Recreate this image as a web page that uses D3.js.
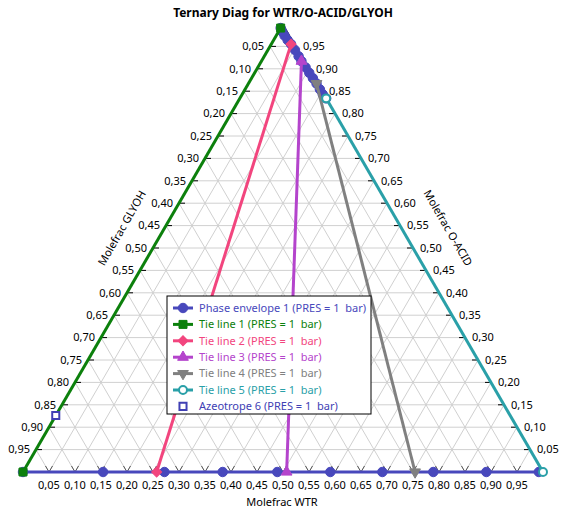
<!DOCTYPE html>
<html>
<head>
<meta charset="utf-8">
<script src="https://cdn.jsdelivr.net/npm/d3@7"></script>
<style>
  body { margin: 0; background: #fff; }
  text { font-family: "Noto Sans", sans-serif; }
</style>
</head>
<body>
<svg id="chart" width="568" height="510"></svg>
<script>
// composition ticks, shared by the three axes
const tickValues = [0.05, 0.10, 0.15, 0.20, 0.25, 0.30, 0.35, 0.40, 0.45, 0.50,
                    0.55, 0.60, 0.65, 0.70, 0.75, 0.80, 0.85, 0.90, 0.95];

// phase envelope: WTR and O-ACID mole fractions (GLYOH is the rest), null = break
const envWtr  = [0, 0.154, 0.272, 0.384, 0.489, 0.591, 0.691, 0.789, 0.891, 0.992, null,
                 0.166, 0.155, 0.144, 0.131, 0.118, 0.105, 0.092, 0.077, 0.066, 0.052, 0.038, 0.027, 0.016, 0.007, 0];
const envAcid = [0, 0, 0, 0, 0, 0, 0, 0, 0, 0, null,
                 0.834, 0.843, 0.854, 0.867, 0.879, 0.891, 0.903, 0.917, 0.928, 0.942, 0.955, 0.964, 0.974, 0.983, 0.991];

// tie lines: [bottom end, top end]
const tieWtr  = [[0, 0], [0.257, 0.038], [0.507, 0.077], [0.754, 0.131], [1.0, 0.166]];
const tieAcid = [[0, 0.991], [0, 0.955], [0, 0.917], [0, 0.867], [0, 0.834]];

const azeoWtr = [0];
const azeoAcid = [0.126];

const seriesNames = ["Phase envelope 1", "Tie line 1", "Tie line 2", "Tie line 3",
                     "Tie line 4", "Tie line 5", "Azeotrope 6"];
const seriesColors = ["#4848bc", "#0c800c", "#f2457e", "#b444cc", "#808080", "#2aa0a8", "#4040b4"];

const svg = d3.select("#chart");

const xScale = d3.scaleLinear().domain([0, 1]).range([23, 543]);
const yScale = d3.scaleLinear().domain([0, 1]).range([472, 24]);
// (wtr, acid) -> pixel
const px = (w, a) => xScale(w + a / 2);
const py = a => yScale(a);

const locale = d3.formatLocale({decimal: ",", thousands: ".", grouping: [3], currency: ["", ""]});
const fmt = locale.format(".2f");

// grid
const grid = svg.append("g").attr("stroke", "#d0d0d0").attr("stroke-width", 1);
tickValues.forEach(v => {
  // const O-ACID
  grid.append("line").attr("x1", px(0, v)).attr("y1", py(v)).attr("x2", px(1 - v, v)).attr("y2", py(v));
  // const WTR
  grid.append("line").attr("x1", px(v, 0)).attr("y1", py(0)).attr("x2", px(v, 1 - v)).attr("y2", py(1 - v));
  // const GLYOH
  grid.append("line").attr("x1", px(1 - v, 0)).attr("y1", py(0)).attr("x2", px(0, 1 - v)).attr("y2", py(1 - v));
});

// outline
svg.append("path")
  .attr("d", `M${px(0,0)},${py(0)}L${px(1,0)},${py(0)}L${px(0,1)},${py(1)}Z`)
  .attr("fill", "none").attr("stroke", "#000").attr("stroke-width", 1);

// ticks and tick labels
const axes = svg.append("g").attr("font-size", 11).attr("fill", "#000");
tickValues.forEach(v => {
  // left: GLYOH
  const lx = px(0, 1 - v), ly = py(1 - v);
  axes.append("line").attr("x1", lx).attr("y1", ly).attr("x2", lx + 6).attr("y2", ly).attr("stroke", "#000");
  axes.append("text").attr("x", lx - 6).attr("y", ly).attr("dy", "0.35em")
    .attr("text-anchor", "end").text(fmt(v));
  // right: O-ACID
  const rx = px(1 - v, v), ry = py(v);
  axes.append("line").attr("x1", rx - 6).attr("y1", ry).attr("x2", rx).attr("y2", ry).attr("stroke", "#000");
  axes.append("text").attr("x", rx + 7).attr("y", ry).attr("dy", "0.35em").text(fmt(v));
  // bottom: WTR
  const bx = px(v, 0), by = py(0);
  axes.append("path").attr("d", `M${bx - 3.5},${by - 6}L${bx},${by}L${bx + 3.5},${by - 6}`)
    .attr("fill", "none").attr("stroke", "#555");
  axes.append("text").attr("x", bx).attr("y", 485).attr("dy", "0.35em")
    .attr("text-anchor", "middle").text(fmt(v));
});

// axis titles
svg.append("text").attr("transform", "translate(122,228) rotate(-60)")
  .attr("text-anchor", "middle").attr("dy", "0.35em").attr("font-size", 11).text("Molefrac GLYOH");
svg.append("text").attr("transform", "translate(448,228) rotate(60)")
  .attr("text-anchor", "middle").attr("dy", "0.35em").attr("font-size", 11).text("Molefrac O-ACID");
svg.append("text").attr("x", 282).attr("y", 502).attr("dy", "0.35em")
  .attr("text-anchor", "middle").attr("font-size", 11).text("Molefrac WTR");
svg.append("text").attr("x", 283).attr("y", 13).attr("dy", "0.35em")
  .attr("text-anchor", "middle").attr("font-size", 12).attr("font-weight", "bold").text("Ternary Diag for WTR/O-ACID/GLYOH");

// marker makers
const symbols = [
  {type: d3.symbolCircle, size: 70, rot: 0, open: false},
  {type: d3.symbolSquare, size: 64, rot: 0, open: false},
  {type: d3.symbolSquare, size: 50, rot: 45, open: false},
  {type: d3.symbolTriangle, size: 50, rot: 0, open: false},
  {type: d3.symbolTriangle, size: 50, rot: 180, open: false},
  {type: d3.symbolCircle, size: 50, rot: 0, open: true},
  {type: d3.symbolSquare, size: 50, rot: 0, open: true}
];
function marker(g, i, x, y) {
  const s = symbols[i];
  g.append("path")
    .attr("d", d3.symbol().type(s.type).size(s.size)())
    .attr("transform", `translate(${x},${y}) rotate(${s.rot})`)
    .attr("fill", s.open ? "#fff" : seriesColors[i])
    .attr("stroke", seriesColors[i]).attr("stroke-width", s.open ? 2 : 1);
}

const line = d3.line().defined(d => d[0] !== null).x(d => px(d[0], d[1])).y(d => py(d[1]));

// envelope
const envPts = envWtr.map((w, i) => [w, envAcid[i]]);
const envG = svg.append("g");
envG.append("path").datum(envPts).attr("d", line)
  .attr("fill", "none").attr("stroke", seriesColors[0]).attr("stroke-width", 3);
envPts.filter(d => d[0] !== null).forEach(d => marker(envG, 0, px(d[0], d[1]), py(d[1])));

// tie lines
tieWtr.forEach((ws, k) => {
  const pts = ws.map((w, j) => [w, tieAcid[k][j]]);
  const g = svg.append("g");
  g.append("path").datum(pts).attr("d", line)
    .attr("fill", "none").attr("stroke", seriesColors[k + 1]).attr("stroke-width", 3);
  pts.forEach(d => marker(g, k + 1, px(d[0], d[1]), py(d[1])));
});

// azeotrope
azeoWtr.forEach((w, i) => marker(svg, 6, px(w, azeoAcid[i]), py(azeoAcid[i])));

// legend
const leg = svg.append("g").attr("transform", "translate(167,296)");
leg.append("rect").attr("width", 204).attr("height", 118)
  .attr("fill", "#fff").attr("stroke", "#000").attr("stroke-width", 1);
seriesNames.forEach((name, i) => {
  const y = 12 + i * 16.4;
  if (i < 6) {
    leg.append("line").attr("x1", 6).attr("x2", 26).attr("y1", y).attr("y2", y)
      .attr("stroke", seriesColors[i]).attr("stroke-width", 3);
  }
  marker(leg, i, 16, y);
  leg.append("text").attr("x", 32).attr("y", y).attr("dy", "0.35em")
    .attr("font-size", 11).attr("fill", seriesColors[i])
    .style("white-space", "pre").text(name + " (PRES = 1  bar)");
});
</script>
</body>
</html>
